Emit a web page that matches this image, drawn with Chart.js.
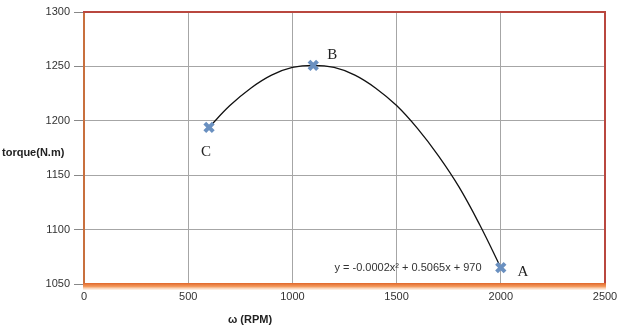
<!DOCTYPE html>
<html>
<head>
<meta charset="utf-8">
<script src="https://cdn.jsdelivr.net/npm/chart.js@4"></script>
<style>
  html, body { margin: 0; padding: 0; background: #fff; }
  #wrap { width: 618px; height: 328px; position: relative; }
</style>
</head>
<body>
<div id="wrap"><canvas id="torqueChart"></canvas></div>
<script>
// Data
const curveRpm = [600, 700, 800, 900, 1000, 1100, 1200, 1300, 1400, 1500, 1600, 1700, 1800, 1900, 2000];
const curveTorque = [1194, 1214, 1230, 1242, 1249, 1251, 1249, 1242, 1230, 1214, 1193, 1168, 1139, 1104, 1065];
const pointNames = ['C', 'B', 'A'];
const pointRpm = [600, 1100, 2000];
const pointTorque = [1194, 1251, 1065];
const xTicks = [0, 500, 1000, 1500, 2000, 2500];
const yTicks = [1050, 1100, 1150, 1200, 1250, 1300];
const equationText = 'y = -0.0002x² + 0.5065x + 970';

const TICK_FONT = { family: "'Liberation Sans', Arial, sans-serif", size: 11 };

// Letters, equation, axis titles and the orange base band
const annotate = {
    id: 'annotate',
    beforeDatasetsDraw(chart) {
        const { ctx, chartArea: a } = chart;
        ctx.save();
        const g = ctx.createLinearGradient(0, a.bottom - 1, 0, a.bottom + 6);
        g.addColorStop(0, '#e0672a');
        g.addColorStop(0.5, '#f39a5e');
        g.addColorStop(1, 'rgba(250,200,160,0.2)');
        ctx.fillStyle = g;
        ctx.fillRect(a.left - 1, a.bottom - 1, a.right - a.left + 2, 7);
        ctx.restore();
    },
    afterDraw(chart) {
        const { ctx, scales } = chart;
        const x = scales.x, y = scales.y;
        ctx.save();
        // point letters
        const offs = [[-3, 25], [19, -10], [22, 4]];
        ctx.font = "15px 'Liberation Serif', 'DejaVu Serif', serif";
        ctx.fillStyle = '#222';
        ctx.textAlign = 'center';
        ctx.textBaseline = 'middle';
        pointNames.forEach((n, i) => {
            ctx.fillText(n, x.getPixelForValue(pointRpm[i]) + offs[i][0], y.getPixelForValue(pointTorque[i]) + offs[i][1]);
        });
        // trendline equation
        ctx.font = "11px 'Liberation Sans', Arial, sans-serif";
        ctx.fillStyle = '#333';
        ctx.fillText(equationText, 408, 268);
        // axis titles
        ctx.font = "bold 11px 'Liberation Sans', Arial, sans-serif";
        ctx.fillStyle = '#222';
        ctx.textAlign = 'left';
        ctx.fillText('torque(N.m)', 2, 153);
        ctx.textAlign = 'center';
        ctx.fillText('ω (RPM)', 250, 320);
        ctx.restore();
    }
};

new Chart(document.getElementById('torqueChart'), {
    type: 'scatter',
    data: {
        datasets: [
            {
                data: curveRpm.map((v, i) => ({ x: v, y: curveTorque[i] })),
                showLine: true,
                borderColor: '#111',
                borderWidth: 1.3,
                pointRadius: 0,
                tension: 0.4,
                order: 2
            },
            {
                data: pointRpm.map((v, i) => ({ x: v, y: pointTorque[i] })),
                pointStyle: 'crossRot',
                pointRadius: 6,
                borderWidth: 4,
                borderColor: '#6a90c0',
                backgroundColor: '#6a90c0',
                order: 1
            }
        ]
    },
    options: {
        responsive: true,
        maintainAspectRatio: false,
        animation: false,
        layout: { padding: { left: 0, right: 13, top: 12, bottom: 0 } },
        plugins: { legend: { display: false }, tooltip: { enabled: false } },
        scales: {
            x: {
                type: 'linear',
                min: 0, max: 2500,
                afterBuildTicks: s => { s.ticks = xTicks.map(v => ({ value: v })); },
                afterFit: s => { s.height = 44; s.paddingLeft = 0; s.paddingRight = 0; },
                ticks: { font: TICK_FONT, color: '#333', padding: 6, callback: v => String(v) },
                grid: { color: '#a6a6a6', lineWidth: 1, drawTicks: false },
                border: { display: false }
            },
            y: {
                type: 'linear',
                min: 1050, max: 1300,
                afterBuildTicks: s => { s.ticks = yTicks.map(v => ({ value: v })); },
                afterFit: s => { s.width = 84; s.paddingTop = 0; s.paddingBottom = 0; },
                ticks: { font: TICK_FONT, color: '#333', padding: 4, callback: v => String(v) },
                grid: { color: '#a6a6a6', lineWidth: 1, tickLength: 10, tickColor: '#888' },
                border: { display: true, color: '#c8703e', width: 2 }
            },
            x2: {
                type: 'linear', position: 'top', min: 0, max: 2500,
                ticks: { display: false }, grid: { display: false },
                border: { display: true, color: '#b9473f', width: 2 },
                afterFit: s => { s.height = 0; s.paddingLeft = 0; s.paddingRight = 0; }
            },
            y2: {
                type: 'linear', position: 'right', min: 1050, max: 1300,
                ticks: { display: false }, grid: { display: false },
                border: { display: true, color: '#b9473f', width: 2 },
                afterFit: s => { s.width = 0; s.paddingTop = 0; s.paddingBottom = 0; }
            }
        }
    },
    plugins: [annotate]
});
</script>
</body>
</html>
